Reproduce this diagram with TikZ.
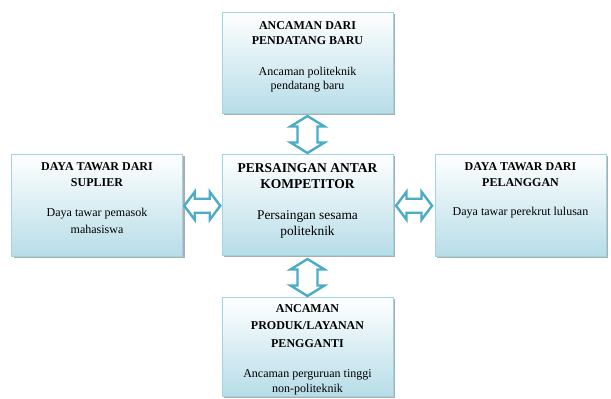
\documentclass[tikz,border=0pt]{standalone}
\usepackage{fontspec}
\setmainfont{Liberation Serif}
\usetikzlibrary{calc,shadows}
\definecolor{boxbot}{RGB}{183,221,232}
\definecolor{boxline}{RGB}{160,212,226}
\definecolor{arrowc}{RGB}{75,172,198}
\tikzset{
  fbox/.style={draw=boxline, line width=0.8pt, top color=white, bottom color=boxbot,
    drop shadow={shadow xshift=2.2pt, shadow yshift=-2.2pt, fill=black!40, opacity=0.8},
    minimum width=171pt, inner sep=0pt},
  headtxt/.style={anchor=north, inner sep=0pt, align=center, font=\fontsize{12}{#1}\selectfont\bfseries},
  headtxt/.default=15.5,
  bodytxt/.style={anchor=north, inner sep=0pt, align=center, font=\fontsize{12}{#1}\selectfont},
  bodytxt/.default=16,
  blockarrow/.style={draw=arrowc, line width=2.4pt, fill=white, line join=miter}
}
\begin{document}
\begin{tikzpicture}[x=1pt,y=-1pt]
\useasboundingbox (0,0) rectangle (611,399);
% boxes
\node[fbox, minimum height=101pt] (topbox) at (307.5,62.5) {};
\node[fbox, minimum height=102pt] (leftbox) at (97,205) {};
\node[fbox, minimum height=101pt] (cbox) at (307.5,204.5) {};
\node[fbox, minimum height=102pt] (rightbox) at (520.5,205) {};
\node[fbox, minimum height=99pt] (botbox) at (307.5,346.5) {};
% texts
\node[headtxt=15] (toph) at (307.5,21) {ANCAMAN DARI\\PENDATANG BARU};
\node[bodytxt=14.3] (topb) at (307.5,66.5) {Ancaman politeknik\\pendatang baru};
\node[headtxt=16] (lefth) at (97,162) {DAYA TAWAR DARI\\SUPLIER};
\node[bodytxt=17] (leftb) at (97,208) {Daya tawar pemasok\\mahasiswa};
\node[anchor=north, inner sep=0pt, align=center, font=\fontsize{13.5}{15.5}\selectfont\bfseries] (ch) at (307.5,163.5) {PERSAINGAN ANTAR\\KOMPETITOR};
\node[anchor=north, inner sep=0pt, align=center, font=\fontsize{13.4}{16}\selectfont] (cb) at (307.5,210) {Persaingan sesama\\politeknik};
\node[headtxt=16] (righth) at (520.5,162) {DAYA TAWAR DARI\\PELANGGAN};
\node[bodytxt] (rightb) at (520.5,207) {Daya tawar perekrut lulusan};
\node[headtxt=17.5] (both) at (307.5,304) {ANCAMAN\\PRODUK/LAYANAN\\PENGGANTI};
\node[bodytxt=15] (botb) at (307.5,369) {Ancaman perguruan tinggi\\non-politeknik};
% arrow centres
\coordinate (va) at ($(topbox.south)!0.5!(cbox.north)+(0,1)$);
\coordinate (vb) at ($(cbox.south)!0.5!(botbox.north)+(0,1.5)$);
\coordinate (ha) at ($(leftbox.east)!0.5!(cbox.west)+(0,1)$);
\coordinate (hb) at ($(cbox.east)!0.5!(rightbox.west)+(0,1)$);
% vertical double arrows
\foreach \c in {va,vb}{
  \draw[blockarrow] ($(\c)+(0,-18.5)$) -- ($(\c)+(17,-8)$) -- ($(\c)+(10,-8)$) -- ($(\c)+(10,8)$)
    -- ($(\c)+(17,8)$) -- ($(\c)+(0,18.5)$) -- ($(\c)+(-17,8)$) -- ($(\c)+(-10,8)$)
    -- ($(\c)+(-10,-8)$) -- ($(\c)+(-17,-8)$) -- cycle;
}
% horizontal double arrows
\foreach \c in {ha,hb}{
  \draw[blockarrow] ($(\c)+(-18,0)$) -- ($(\c)+(-7.5,-14)$) -- ($(\c)+(-7.5,-7)$) -- ($(\c)+(7.5,-7)$)
    -- ($(\c)+(7.5,-14)$) -- ($(\c)+(18,0)$) -- ($(\c)+(7.5,14)$) -- ($(\c)+(7.5,7)$)
    -- ($(\c)+(-7.5,7)$) -- ($(\c)+(-7.5,14)$) -- cycle;
}
\end{tikzpicture}
\end{document}
